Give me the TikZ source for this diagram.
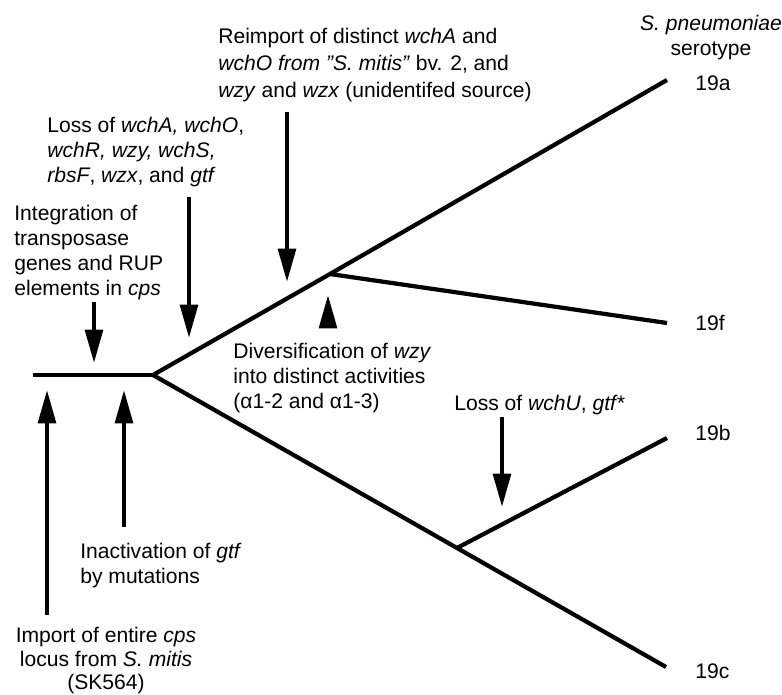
\documentclass[tikz,border=0pt]{standalone}
\usepackage{fontspec}
\setmainfont{Liberation Sans}
\usetikzlibrary{arrows.meta}

\begin{document}
\begin{tikzpicture}[x=0.02cm, y=-0.02cm,
    branch/.style={line width=2.4pt},
    event/.style={line width=2.4pt, -{Triangle[width=10pt, length=19pt]}},
    note/.style={font=\fontsize{12}{14.3}\selectfont, inner sep=0pt, anchor=north west, align=left}]
  \useasboundingbox (0,0) rectangle (782,695);

  \coordinate (root) at (33,375);
  \coordinate (split) at (153,375);
  \coordinate (upper) at (330,274);
  \coordinate (lower) at (457,548);
  \coordinate (end19a) at (667,80);
  \coordinate (end19f) at (667,323);
  \coordinate (end19b) at (667,438);
  \coordinate (end19c) at (666,667);

  \draw[branch] (root) -- (split);
  \draw[branch] (end19a) -- (upper) -- (split) -- (lower) -- (end19c);
  \draw[branch] (upper) -- (end19f);
  \draw[branch] (lower) -- (end19b);

  \node[note, anchor=north, align=center] (sero) at (711,15) {\textit{S. pneumoniae}\\serotype};
  \node[note] (t19a) at (695,75) {19a};
  \node[note] (t19f) at (695,315) {19f};
  \node[note] (t19b) at (695,425) {19b};
  \node[note] (t19c) at (695,663) {19c};

  \node[note] (integ) at (14,205) {Integration of\\transposase\\genes and RUP\\elements in \textit{cps}};
  \node[note] (loss1) at (47,117) {Loss of \textit{wchA, wchO},\\\textit{wchR, wzy, wchS,}\\\textit{rbsF}, \textit{wzx}, and \textit{gtf}};
  \node[note, font=\fontsize{12}{15.2}\selectfont] (reimp) at (218,28) {Reimport of distinct \textit{wchA} and\\\textit{wchO from ”S. mitis”} bv. 2, and\\\textit{wzy} and \textit{wzx} (unidentifed source)};
  \node[note] (divers) at (233,343) {Diversification of \textit{wzy}\\into distinct activities\\(α1-2 and α1-3)};
  \node[note] (loss2) at (454,395) {Loss of \textit{wchU}, \textit{gtf*}};
  \node[note] (inact) at (80,543) {Inactivation of \textit{gtf}\\by mutations};
  \node[note, font=\fontsize{12}{13.4}\selectfont, anchor=north, align=center] (import) at (106,627) {Import of entire \textit{cps}\\locus from \textit{S. mitis}\\(SK564)};

  \coordinate (integ-a) at (94,302);
  \coordinate (integ-b) at (94,363);
  \coordinate (loss1-a) at (189,197);
  \coordinate (loss1-b) at (189,338);
  \coordinate (reimp-a) at (287,112);
  \coordinate (reimp-b) at (287,282);
  \coordinate (divers-a) at (328,328);
  \coordinate (divers-b) at (328,295);
  \coordinate (loss2-a) at (502,417);
  \coordinate (loss2-b) at (502,507);
  \coordinate (inact-a) at (124,527);
  \coordinate (inact-b) at (124,390);
  \coordinate (import-a) at (47,615);
  \coordinate (import-b) at (47,390);

  \draw[event] (integ-a) -- (integ-b);
  \draw[event] (loss1-a) -- (loss1-b);
  \draw[event] (reimp-a) -- (reimp-b);
  \draw[event] (divers-a) -- (divers-b);
  \draw[event] (loss2-a) -- (loss2-b);
  \draw[event] (inact-a) -- (inact-b);
  \draw[event] (import-a) -- (import-b);
\end{tikzpicture}
\end{document}
